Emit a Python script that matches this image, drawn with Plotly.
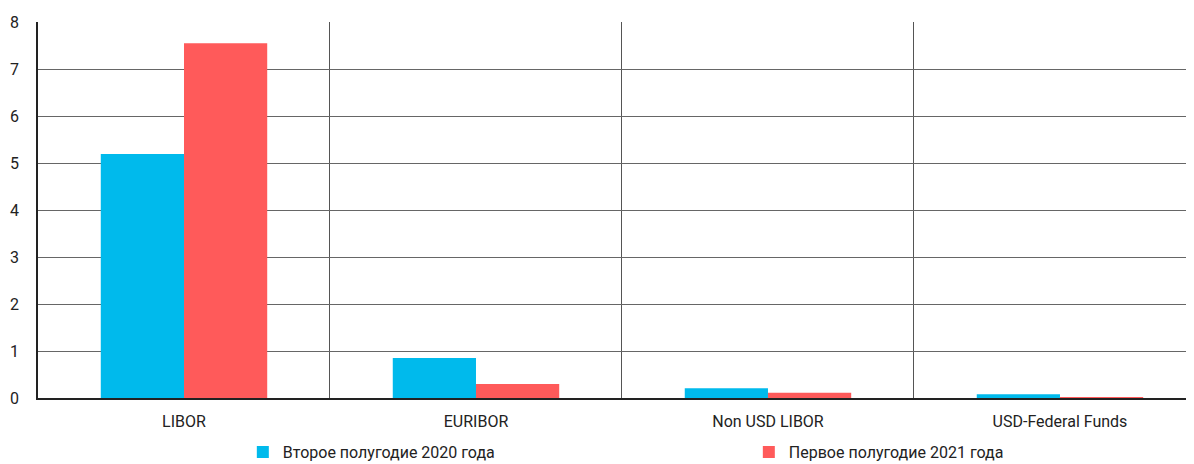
import plotly.graph_objects as go

categories = ["LIBOR", "EURIBOR", "Non USD LIBOR", "USD-Federal Funds"]
series_names = ["Второе полугодие 2020 года", "Первое полугодие 2021 года"]
values_2020h2 = [5.19, 0.85, 0.21, 0.08]
values_2021h1 = [7.55, 0.30, 0.11, 0.01]
y_ticks = [0, 1, 2, 3, 4, 5, 6, 7, 8]

BLUE = "#00BAEC"
RED = "#FF5A5A"
FONT = "Roboto"

fig = go.Figure()
fig.add_trace(go.Bar(x=categories, y=values_2020h2, name=series_names[0],
                     marker=dict(color=BLUE, line=dict(width=0))))
fig.add_trace(go.Bar(x=categories, y=values_2021h1, name=series_names[1],
                     marker=dict(color=RED, line=dict(width=0))))

# page body has an 8px margin, so the figure is sized to fit the 1194x464 window
fig.update_layout(
    width=1186, height=456,
    margin=dict(l=30, r=0, t=14, b=66, autoexpand=False),
    paper_bgcolor="white", plot_bgcolor="white",
    barmode="group", bargap=0.43, bargroupgap=0,
    font=dict(family=FONT, size=16, color="#222222"),
    showlegend=True,
    legend=dict(orientation="h", xref="container", yref="container",
                x=0.198, xanchor="left", y=0.026, yanchor="middle",
                entrywidth=461, entrywidthmode="pixels", itemwidth=30,
                font=dict(family=FONT, size=16, color="#222222")),
)
fig.update_xaxes(
    type="category", range=[-0.5, 3.459], automargin=False,
    showline=True, linecolor="#222222", linewidth=1.5,
    showgrid=True, gridcolor="#555555", gridwidth=1, tickson="boundaries",
    ticks="", ticklabelstandoff=8,
)
fig.update_yaxes(
    range=[0, 8], tickvals=y_ticks, automargin=False,
    showline=True, linecolor="#222222", linewidth=1.5,
    showgrid=True, gridcolor="#666666", gridwidth=1,
    zeroline=False, ticks="", ticklabelstandoff=14,
)

fig.write_html("out.html")
